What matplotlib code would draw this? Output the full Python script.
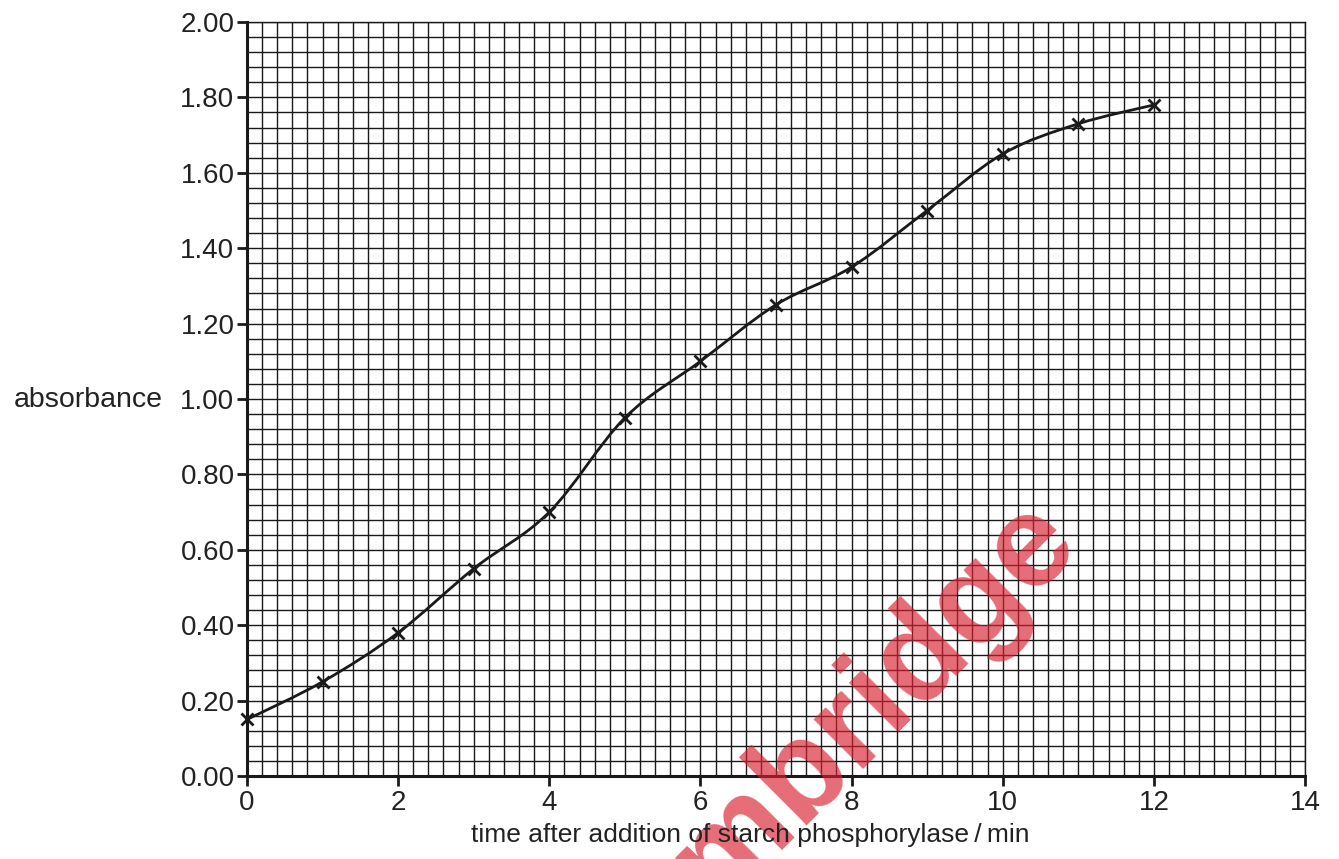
import numpy as np
import matplotlib.pyplot as plt
from matplotlib.path import Path
from matplotlib.patches import PathPatch
from matplotlib.ticker import MultipleLocator, FormatStrFormatter

plt.rcParams['font.family'] = ['Liberation Sans', 'DejaVu Sans']

# readings
time_min = [0, 1, 2, 3, 4, 5, 6, 7, 8, 9, 10, 11, 12]
absorbance = [0.15, 0.25, 0.38, 0.55, 0.70, 0.95, 1.10, 1.25, 1.35, 1.50, 1.65, 1.73, 1.78]


def smooth_path(xs, ys):
    # catmull-rom through the points, drawn as cubic bezier segments
    pts = np.column_stack([xs, ys]).astype(float)
    padded = np.vstack([pts[0], pts, pts[-1]])
    verts = [pts[0]]
    codes = [Path.MOVETO]
    for i in range(len(pts) - 1):
        p0, p1, p2, p3 = padded[i], padded[i + 1], padded[i + 2], padded[i + 3]
        verts += [p1 + (p2 - p0) / 6, p2 - (p3 - p1) / 6, p2]
        codes += [Path.CURVE4] * 3
    return Path(verts, codes)


fig = plt.figure(figsize=(13.39, 8.59), dpi=100)
ax = fig.add_axes([247 / 1339, 1 - 776 / 859, (1305 - 247) / 1339, (776 - 22) / 859])

ax.set_xlim(0, 14)
ax.set_ylim(0, 2.0)
ax.xaxis.set_major_locator(MultipleLocator(2))
ax.xaxis.set_minor_locator(MultipleLocator(0.2))
ax.yaxis.set_major_locator(MultipleLocator(0.2))
ax.yaxis.set_minor_locator(MultipleLocator(0.04))
ax.yaxis.set_major_formatter(FormatStrFormatter('%.2f'))

ax.grid(which='both', color='#1a1a1a', linewidth=1.0)
ax.set_axisbelow(True)
ax.tick_params(which='major', direction='out', length=7, width=2, colors='#1a1a1a',
               labelsize=20, labelcolor='#222222')
ax.tick_params(axis='x', which='major', pad=3)
ax.tick_params(axis='y', which='major', pad=2)
ax.tick_params(which='minor', length=0)

for side in ['left', 'bottom']:
    ax.spines[side].set_linewidth(2.2)
    ax.spines[side].set_color('#1a1a1a')
for side in ['top', 'right']:
    ax.spines[side].set_linewidth(1.0)
    ax.spines[side].set_color('#1a1a1a')

ax.add_patch(PathPatch(smooth_path(time_min, absorbance), fill=False,
                       edgecolor='#1a1a1a', linewidth=2, zorder=3))
ax.plot(time_min, absorbance, linestyle='none', marker='x', markersize=9,
        markeredgewidth=2, color='#1a1a1a', zorder=4, clip_on=False)

fig.text(163 / 1339, 1 - 400 / 859, 'absorbance', ha='right', va='center',
         fontsize=20.5, color='#222222', zorder=3)
fig.text(750 / 1339, 1 - 835 / 859, 'time after addition of starch phosphorylase\u2009/\u2009min',
         ha='center', va='center', fontsize=19, color='#222222', zorder=3)

# watermark over the grid but under the axis label, running off the bottom edge
fig.text(1082 / 1339, 1 - 545 / 859, 'Cambridge', ha='right', va='baseline',
         rotation=45, rotation_mode='anchor', fontsize=94, fontweight='bold',
         color='#d82030', alpha=0.66, zorder=1)

fig.savefig('out.png', dpi=100)
